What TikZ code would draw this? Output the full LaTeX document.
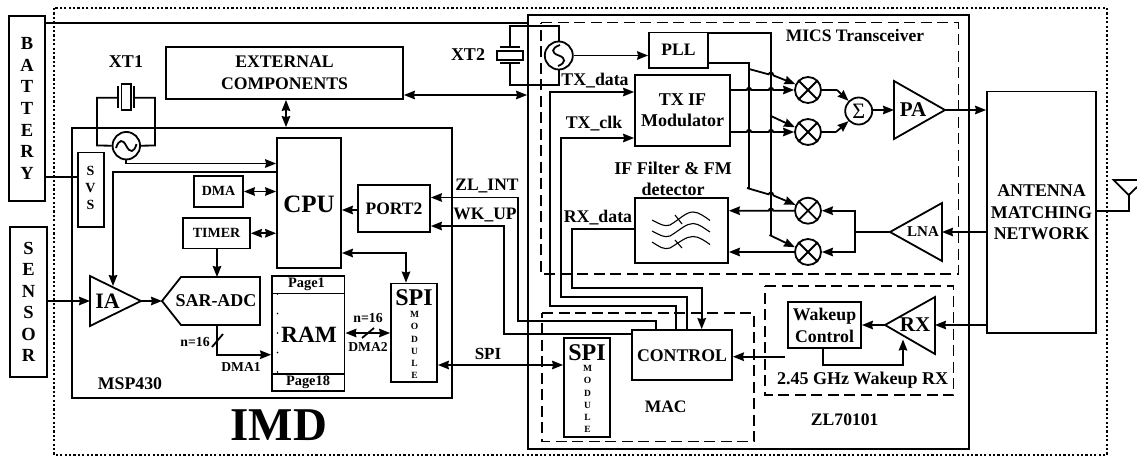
\documentclass[tikz,border=0pt]{standalone}
\usepackage{fontspec}
\setmainfont{Liberation Serif}
\usetikzlibrary{arrows.meta,calc}
\tikzset{
  base/.style={line width=1.8pt,line join=miter},
  bx/.style={base,draw,rectangle,inner sep=0pt},
  arr/.style={base,-{Stealth[length=11pt,width=8.5pt,inset=1pt]}},
  dbl/.style={base,{Stealth[length=11pt,width=8.5pt,inset=1pt]}-{Stealth[length=11pt,width=8.5pt,inset=1pt]}},
  wire/.style={base},
  dashbox/.style={line width=1.7pt,dash pattern=on 11pt off 5.5pt},
  dotbox/.style={line width=1.5pt,dash pattern=on 2.2pt off 2.2pt},
  mix/.style={base,draw,circle,minimum size=26pt,inner sep=0pt},
  t/.style={font=\bfseries\fontsize{#1}{#1}\selectfont,inner sep=0pt},
  stack/.style 2 args={font=\bfseries\fontsize{#1}{#2}\selectfont,inner sep=0pt,align=center},
  thinw/.style={line width=1.1pt},
}
\newcommand{\bx}[6]{%
  \pgfmathsetmacro\bxw{#4-#2}\pgfmathsetmacro\bxh{#5-#3}%
  \node[bx,minimum width=\bxw pt,minimum height=\bxh pt] (#1) at ({(#2+#4)/2},{(#3+#5)/2}) {#6};}
\newcommand{\mixer}[3]{%
  \node[mix] (#1) at (#2,#3) {};
  \draw[base] (#1.45) -- (#1.225) (#1.135) -- (#1.315);}
\newcommand{\hump}{ arc[start angle=180,end angle=0,radius=2.2pt] }
\begin{document}
\begin{tikzpicture}[x=1pt,y=-1pt]
\useasboundingbox (0,0) rectangle (1137,456);
% outer
\draw[dotbox] (54,8) rectangle (1107,455);
% big containers
\bx{zl}{528}{15}{969}{449}{}
\bx{msp}{72}{128}{452}{398}{}
\draw[dashbox] (541,22.5) -- (958.5,22.5) -- (958.5,274) -- (541,274) -- cycle;
\draw[dashbox] (542,313) -- (754,313) -- (754,441.5) -- (542,441.5) -- cycle;
\draw[dashbox] (765,286) -- (953.5,286) -- (953.5,395) -- (765,395) -- cycle;
% left boxes
\bx{bat}{9}{16}{45}{201}{}
\node[stack={18.5}{21.7}] (battxt) at (27,108.5) {B\\A\\T\\T\\E\\R\\Y};
\bx{sen}{10}{227}{47}{377}{}
\node[stack={18.5}{21.5}] (sentxt) at (28.5,302) {S\\E\\N\\S\\O\\R};
\bx{svs}{78}{152.5}{104}{227}{}
\node[stack={14}{17}] (svstxt) at (90.5,188) {S\\V\\S};
\draw[wire] (bat.east |- 0,23) -- (zl.west |- 0,23);
\draw[wire] (bat.east |- 0,177) -- (svs.west |- 0,177);
\bx{ext}{166}{47}{403}{99}{}
\node[stack={17.7}{22}] (exttxt) at (284.5,73) {EXTERNAL\\COMPONENTS};
\node[t=18] (xt1t) at (126,62) {XT1};
% XT1
\node[mix,minimum size=27.5pt] (osc1) at (126.3,145.7) {};
\bx{xc1}{121.5}{84}{131}{110}{}
\coordinate (p1l) at (118,97.7);
\coordinate (p1r) at (134.3,97.7);
\draw[base] (118,86) -- (118,108) (134.3,86) -- (134.3,108);
\draw[wire] (p1l) -- (97,97.7) -- (97,145.5) -- (osc1.west);
\draw[wire] (p1r) -- (155,97.7) -- (155,145.5) -- (osc1.east);
\draw[base] (116,148) .. controls (119,139) and (123,139) .. (126.3,146) .. controls (130,153) and (134,153) .. (136.5,144);
% CPU area
\bx{cpu}{277}{138}{341}{268}{}
\node[t=25] (cputxt) at (309,204) {CPU};
\bx{dma}{194}{176}{243}{207}{}
\node[t=14] (dmatxt) at (218.5,191) {DMA};
\bx{timer}{183}{218}{250}{248.5}{}
\node[t=14] (timertxt) at (216.5,233) {TIMER};
\bx{port}{358}{185}{430}{232}{}
\node[t=17.5] (porttxt) at (394,208.5) {PORT2};
\draw[arr] (osc1.south) |- (cpu.west |- 0,163.5);
\draw[dbl] (ext.south -| 286,0) -- (msp.north -| 286,0);
\draw[dbl] (dma.east) -- (cpu.west |- dma.east);
\draw[dbl] (timer.east) -- (cpu.west |- timer.east);
\draw[arr] (port.west |- 0,210) -- (cpu.east |- 0,210);
% IA and ADC
\draw[base] (90,276) coordinate (iaA) -- (141,301) coordinate (iaO) -- (90,326) -- cycle;
\coordinate (iaI) at (90,301);
\coordinate (iaT) at (113,286);
\node[t=22] (iatxt) at (107.5,301) {IA};
\draw[base] (162,301) coordinate (adcI) -- (181,277) -- (260,277) -- (260,325) -- (181,325) -- cycle;
\node[t=18] (adctxt) at (216,301) {SAR-ADC};
\draw[arr] (sen.east |- iaI) -- (iaI);
\draw[arr] (cpu.west |- 0,172) -| (iaT);
\draw[arr] (iaO) -- (adcI);
\coordinate (adcT) at (217,277);
\coordinate (adcB) at (217,325);
\draw[arr] (timer.south -| adcT) -- (adcT);
% RAM
\bx{ram}{272}{276}{344.5}{391}{}
\draw[base] (ram.west |- 0,293.5) -- (ram.east |- 0,293.5);
\draw[base] (ram.west |- 0,373.7) -- (ram.east |- 0,373.7);
\node[t=14.4] (p1txt) at (306.5,284.5) {Page1};
\node[t=14.4] (p18txt) at (308,382.5) {Page18};
\node[t=23.3] (ramtxt) at (309,334.5) {RAM};
\foreach \yy in {294,313.5,333,352.5,372}{\fill (277.5,\yy) circle (.8pt);}
\draw[arr] (adcB) |- (ram.west |- 0,354.7);
\draw[wire] (212,347) -- (223,334);
\node[t=13.8] (n1txt) at (195,342) {n=16};
\node[t=13.6] (d1txt) at (241,367) {DMA1};
\node[t=17.8] (msptxt) at (130,384) {MSP430};
\node[t=47] (imd) at (279,425) {IMD};
% SPI 1
\bx{spia}{391}{283.5}{437}{382}{}
\node[t=24] (spiatxt) at (414,298) {SPI};
\node[stack={9.5}{12.1}] (modatxt) at (414.5,345) {M\\O\\D\\U\\L\\E};
\draw[dbl] (ram.east |- 0,333) -- (spia.west |- 0,333);
\draw[wire] (362,338) -- (374,328);
\node[t=13.8] (n2txt) at (368,318) {n=16};
\node[t=13.6] (d2txt) at (368,347) {DMA2};
\draw[dbl] (cpu.east |- 0,253) -| (spia.north -| 406,0);
% SPI 2, control
\bx{spib}{564}{338}{610}{437}{}
\node[t=24] (spibtxt) at (587,353) {SPI};
\node[stack={9.5}{12.1}] (modbtxt) at (587.5,399) {M\\O\\D\\U\\L\\E};
\draw[dbl] (spia.east |- 0,365) -- (spib.west |- 0,365);
\node[t=17] (spilab) at (488,354) {SPI};
\bx{ctl}{632}{330}{732}{380}{}
\node[t=17.8] (ctltxt) at (682,356) {CONTROL};
\node[t=17.5] (mactxt) at (665.7,407) {MAC};
% XT2
\node[mix,minimum size=28pt] (osc2) at (558.8,55.5) {};
\bx{xc2}{497}{50.7}{523}{60}{}
\coordinate (p2t) at (510,46.7);
\coordinate (p2b) at (510,63.3);
\draw[base] (500,46.7) -- (520,46.7) (500,63.3) -- (520,63.3);
\draw[wire] (p2t) |- (558.8,26) -- (osc2.north);
\draw[wire] (p2b) |- (558.8,85) -- (osc2.south);
\draw[base] (560,45) .. controls (551,48) and (551,53) .. (558.8,55.5) .. controls (566,58) and (566,63) .. (558,66);
\node[t=18] (xt2t) at (468,55) {XT2};
\draw[dbl] (ext.east |- 0,95) -- (zl.west |- 0,95);
% Transceiver blocks
\bx{pll}{649}{32.5}{708}{68}{}
\node[t=17.5] (plltxt) at (678.5,50) {PLL};
\draw[arr] (osc2.east) -- (pll.west |- osc2.east);
\bx{txif}{635}{75}{730}{146}{}
\node[stack={18}{21}] (txiftxt) at (682.5,110.5) {TX IF\\Modulator};
\bx{iff}{635}{198}{728}{263}{}
\node[stack={18}{21}] (ifftxt) at (673,178.5) {IF Filter \& FM\\detector};
\node[t=17.5] (mics) at (855,36) {MICS Transceiver};
\draw[thinw] (652,220) .. controls (660,224) and (664,227) .. (670,225) .. controls (680,219) and (686,212) .. (693,212) .. controls (699,212) and (705,217) .. (710,220.5);
\draw[thinw] (652,231) .. controls (660,235) and (664,238) .. (670,236) .. controls (680,230) and (686,223.5) .. (693,223.5) .. controls (699,223.5) and (705,229) .. (710,232);
\draw[thinw] (652,242) .. controls (660,247) and (664,250) .. (670,248) .. controls (680,242) and (686,236.5) .. (693,236.5) .. controls (699,236.5) and (705,241) .. (710,244.5);
\draw[thinw] (675,215) -- (682,224) (675,240) -- (682,248);
% mixers
\mixer{ma}{808}{90}
\mixer{mb}{808}{132}
\mixer{mc}{808}{210.7}
\mixer{md}{808}{252}
\node[mix,minimum size=27pt] (sum) at (858.7,111) {};
\node[font=\fontsize{22}{22}\selectfont,inner sep=0pt] (sumtxt) at (858.7,111) {Σ};
% PLL buses
\coordinate (va1) at (708,33);
\coordinate (va2) at (771,33);
\coordinate (vb1) at (708,63.3);
\coordinate (vb2) at (749,63.3);
\draw[wire] (va1) -- (va2) -- (771,235) coordinate (vaE);
\draw[wire] (vb1) -- (vb2) -- (749,188) coordinate (vbE);
% feeds to mixers with hops
\draw[arr] (749,69) -- (768.5,74.3) .. controls (770,71.5) and (772.5,71.5) .. (773.5,75.5) -- (ma.155);
\draw[arr] (771,116) -- (mb.160);
\draw[arr] (747,188) -- (768.5,194.3) .. controls (770,191.5) and (772.5,191.5) .. (773.5,195.5) -- (mc.155);
\draw[arr] (769.5,235) -- (md.160);
% TX IF to mixers
\draw[arr] (txif.east |- ma.west) -- (746.8,90) \hump -- (768.8,90) \hump -- (ma.west);
\draw[arr] (txif.east |- mb.west) -- (746.8,132) \hump -- (768.8,132) \hump -- (mb.west);
% mixers to sum
\draw[wire] (ma.east) -- (837,90) coordinate (ka);
\draw[arr] (ka) -- (sum.135);
\draw[wire] (mb.east) -- (836,132) coordinate (kb);
\draw[arr] (kb) -- (sum.225);
% PA
\draw[base] (894,81) coordinate (paT) -- (945,110) coordinate (paO) -- (894,139) -- cycle;
\coordinate (paI) at (894,110);
\node[t=21] (patxt) at (913,110) {PA};
\draw[arr] (sum.east |- paI) -- (paI);
% Antenna
\bx{ant}{987}{91.5}{1096}{333}{}
\node[stack={17.9}{21.5}] (anttxt) at (1041.5,212.5) {ANTENNA\\MATCHING\\NETWORK};
\draw[arr] (paO) -- (ant.west |- paO);
\coordinate (antTop) at (1128.7,195);
\draw[base] (ant.east |- 0,211) -| (antTop);
\draw[base] (1137,187) -- (antTop) -- (1113.7,180) -- (1137,180);
% LNA
\draw[base] (890,232) coordinate (lnaO) -- (942,203) -- (942,261) -- cycle;
\coordinate (lnaI) at (942,232);
\node[t=15] (lnatxt) at (923,232) {LNA};
\draw[arr] (ant.west |- lnaI) -- (lnaI);
\coordinate (lnaJ) at (855,232);
\draw[wire] (lnaO) -- (lnaJ);
\draw[arr] (lnaJ) |- (mc.east);
\draw[arr] (lnaJ) |- (md.east);
% mixers to IF filter
\draw[arr] (mc.west) -- (773.2,210.7) arc[start angle=0,end angle=180,radius=2.2pt] -- (iff.east |- mc.west);
\draw[arr] (md.west) -- (iff.east |- md.west);
% Wakeup
\bx{wk}{788}{302}{861}{348}{}
\node[stack={17.8}{22}] (wktxt) at (824.5,325) {Wakeup\\Control};
\draw[base] (885,325) coordinate (rxO) -- (935,297) -- (935,354) -- cycle;
\coordinate (rxI) at (935,325);
\coordinate (rxB) at (903,339.5);
\node[t=21] (rxtxt) at (915,325) {RX};
\draw[arr] (ant.west |- rxI) -- (rxI);
\draw[arr] (rxO) -- (wk.east |- rxO);
\draw[arr] (wk.south -| 822.7,0) |- (903,365) -- (rxB);
\coordinate (wkfree) at (785,356.7);
\draw[arr] (wkfree) -- (ctl.east |- wkfree);
\node[t=18] (rxlab) at (862.7,380) {2.45 GHz Wakeup RX};
\node[t=17.6] (zltxt) at (844.7,420) {ZL70101};
% control buses
\draw[arr] (iff.west |- 0,229) -- (571.7,229) |- (701.7,287.7) -- (ctl.north -| 701.7,0);
\draw[arr] (ctl.north -| 687,0) |- (560.7,296.7) |- (txif.west |- 0,138);
\draw[arr] (ctl.north -| 676,0) |- (550,306) |- (txif.west |- 0,92);
\draw[arr] (ctl.north -| 656,0) |- (518.3,321) |- (port.east |- 0,197.5);
\draw[arr] (ctl.west |- 0,333.7) -| (504,226) -- (port.east |- 0,226);
% labels
\node[t=17.8] (txd) at (595,81) {TX\_data};
\node[t=17.8] (txc) at (594,124) {TX\_clk};
\node[t=17.8] (rxd) at (598,218) {RX\_data};
\node[t=17.5] (zli) at (487,186) {ZL\_INT};
\node[t=17.5] (wku) at (485,215) {WK\_UP};
\end{tikzpicture}
\end{document}
